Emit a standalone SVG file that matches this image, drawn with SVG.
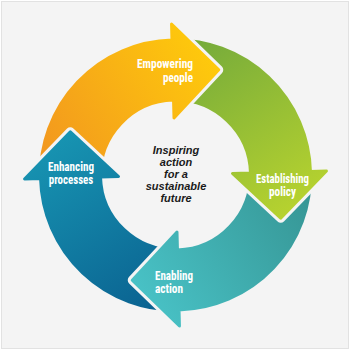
<svg xmlns="http://www.w3.org/2000/svg" width="350" height="350" viewBox="0 0 350 350">
  <style>
    .lbl { font-family: "Liberation Sans Narrow", "Roboto Condensed", "Arial Narrow", Roboto, sans-serif; font-weight: bold; font-size: 12.3px; fill: #ffffff; }
    .ctr { font-family: "Liberation Sans", Arial, sans-serif; font-weight: bold; font-style: italic; font-size: 11px; fill: #1a1a1a; text-anchor: middle; }
    .arrow { stroke-width: 3; stroke-linejoin: round; }
  </style>
  <defs>
    <linearGradient id="gOrange" gradientUnits="userSpaceOnUse" x1="45" y1="165" x2="215" y2="62">
      <stop offset="0" stop-color="#f2961f"/>
      <stop offset="1" stop-color="#fec90c"/>
    </linearGradient>
    <linearGradient id="gGreen" gradientUnits="userSpaceOnUse" x1="45" y1="165" x2="215" y2="62">
      <stop offset="0" stop-color="#74aa3b"/>
      <stop offset="1" stop-color="#b6d22f"/>
    </linearGradient>
    <linearGradient id="gTeal" gradientUnits="userSpaceOnUse" x1="45" y1="165" x2="215" y2="62">
      <stop offset="0" stop-color="#369594"/>
      <stop offset="1" stop-color="#48c1c5"/>
    </linearGradient>
    <linearGradient id="gBlue" gradientUnits="userSpaceOnUse" x1="45" y1="165" x2="215" y2="62">
      <stop offset="0" stop-color="#0a6190"/>
      <stop offset="1" stop-color="#1793b1"/>
    </linearGradient>
    <mask id="notch" maskUnits="userSpaceOnUse" x="-100" y="-100" width="550" height="550">
      <rect x="-100" y="-100" width="550" height="550" fill="#fff"/>
      <polygon points="24,175 71,129 118,175" fill="#000" stroke="#000" stroke-width="9" stroke-linejoin="round"/>
    </mask>
    <path id="arrowShape" d="M 40 175 A 135 135 0 0 1 175 40 L 175 24 L 221 71 L 175 118 L 175 100 A 75 75 0 0 0 100 175 Z"/>
  </defs>

  <rect x="0" y="0" width="350" height="350" fill="#ffffff"/>
  <rect x="1.5" y="1.5" width="347" height="347" fill="#f4f4f4" stroke="#e2e2e2" stroke-width="1"/>

  <g id="connectors"></g>

  <g transform="translate(0.5 0) rotate(-1.5 175 175)">
    <g id="empowering-people-arrow">
      <use href="#arrowShape" class="arrow" fill="url(#gOrange)" stroke="url(#gOrange)" mask="url(#notch)"/>
    </g>
    <g id="establishing-policy-arrow" transform="rotate(90 175 175)">
      <use href="#arrowShape" class="arrow" fill="url(#gGreen)" stroke="url(#gGreen)" mask="url(#notch)"/>
    </g>
    <g id="enabling-action-arrow" transform="rotate(180 175 175)">
      <use href="#arrowShape" class="arrow" fill="url(#gTeal)" stroke="url(#gTeal)" mask="url(#notch)"/>
    </g>
    <g id="enhancing-processes-arrow" transform="rotate(270 175 175)">
      <use href="#arrowShape" class="arrow" fill="url(#gBlue)" stroke="url(#gBlue)" mask="url(#notch)"/>
    </g>
  </g>

  <g id="empowering-people">
    <text class="lbl" x="193" y="68" text-anchor="end" textLength="56" lengthAdjust="spacingAndGlyphs">Empowering</text>
    <text class="lbl" x="193" y="81.5" text-anchor="end" textLength="30" lengthAdjust="spacingAndGlyphs">people</text>
  </g>
  <g id="establishing-policy">
    <text class="lbl" x="282.5" y="182.5" text-anchor="middle" textLength="53" lengthAdjust="spacingAndGlyphs">Establishing</text>
    <text class="lbl" x="282.5" y="196" text-anchor="middle" textLength="27" lengthAdjust="spacingAndGlyphs">policy</text>
  </g>
  <g id="enabling-action">
    <text class="lbl" x="155" y="279.5" textLength="38" lengthAdjust="spacingAndGlyphs">Enabling</text>
    <text class="lbl" x="155" y="293.3" textLength="28" lengthAdjust="spacingAndGlyphs">action</text>
  </g>
  <g id="enhancing-processes">
    <text class="lbl" x="71" y="170.7" text-anchor="middle" textLength="46" lengthAdjust="spacingAndGlyphs">Enhancing</text>
    <text class="lbl" x="71" y="184.3" text-anchor="middle" textLength="44.5" lengthAdjust="spacingAndGlyphs">processes</text>
  </g>

  <g id="center">
    <text class="ctr" x="176" y="154.3">Inspiring</text>
    <text class="ctr" x="176" y="166.3">action</text>
    <text class="ctr" x="176" y="178.3">for a</text>
    <text class="ctr" x="176" y="190.3">sustainable</text>
    <text class="ctr" x="176" y="202.3">future</text>
  </g>
</svg>
